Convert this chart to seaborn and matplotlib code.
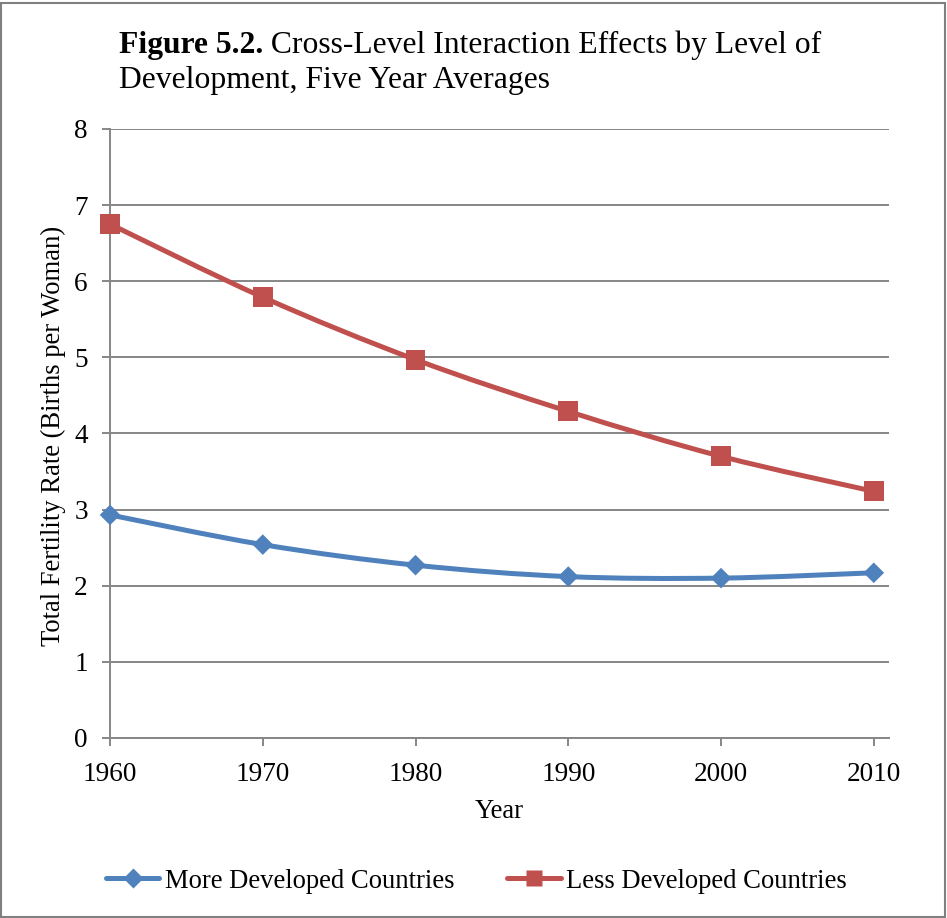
import numpy as np
import pandas as pd
import matplotlib
matplotlib.use("Agg")
import matplotlib.pyplot as plt
import seaborn as sns
from matplotlib.path import Path
from matplotlib.patches import PathPatch, Rectangle
from matplotlib.lines import Line2D

# ---- data -------------------------------------------------------------
years = [1960, 1970, 1980, 1990, 2000, 2010]
more_developed = [2.93, 2.54, 2.27, 2.12, 2.10, 2.17]
less_developed = [6.75, 5.79, 4.97, 4.29, 3.70, 3.24]
series_names = ["More Developed Countries", "Less Developed Countries"]
y_ticks = [0, 1, 2, 3, 4, 5, 6, 7, 8]
x_ticks = years

title_bold = "Figure 5.2."
title_rest = " Cross-Level Interaction Effects by Level of"
title_line2 = "Development, Five Year Averages"
x_label = "Year"
y_label = "Total Fertility Rate (Births per Woman)"

# ---- style ------------------------------------------------------------
sns.set_theme(style="white")
plt.rcParams["font.family"] = ["Liberation Serif", "DejaVu Serif"]
plt.rcParams["text.color"] = "black"

BLUE = "#4F81BD"
RED = "#C0504D"
GREY = "#868686"
FS_TICK = 19.6
FS_LABEL = 19.2
FS_TITLE = 22.8

df = pd.DataFrame({
    "Year": years * 2,
    "TFR": more_developed + less_developed,
    "Series": [series_names[0]] * len(years) + [series_names[1]] * len(years),
})

fig = plt.figure(figsize=(9.47, 9.18), dpi=100)
ax = fig.add_axes([0.1162, 0.1961, 0.8226, 0.6634])


def smooth_path(xs, ys):
    """Cubic Bezier path through the points (Catmull-Rom style tangents)."""
    pts = np.column_stack([xs, ys]).astype(float)
    n = len(pts)
    verts = [pts[0]]
    codes = [Path.MOVETO]
    for i in range(n - 1):
        p0 = pts[i - 1] if i > 0 else pts[i]
        p1, p2 = pts[i], pts[i + 1]
        p3 = pts[i + 2] if i + 2 < n else pts[i + 1]
        verts += [p1 + (p2 - p0) / 6.0, p2 - (p3 - p1) / 6.0, p2]
        codes += [Path.CURVE4] * 3
    return Path(verts, codes)


palette = {series_names[0]: BLUE, series_names[1]: RED}
for name in series_names:
    sub = df[df["Series"] == name]
    ax.add_patch(PathPatch(smooth_path(sub["Year"], sub["TFR"]),
                           facecolor="none", edgecolor=palette[name],
                           lw=3.6, capstyle="round", zorder=3,
                           clip_on=False))

sns.scatterplot(data=df, x="Year", y="TFR", hue="Series", style="Series",
                size="Series",
                palette=palette,
                markers={series_names[0]: "D", series_names[1]: "s"},
                sizes={series_names[0]: 110, series_names[1]: 205},
                edgecolor="none", legend=False, ax=ax, zorder=4)
for coll in ax.collections:
    coll.set_clip_on(False)

ax.set_xlim(1960, 2011)
ax.set_ylim(0, 8)
ax.set_xticks(x_ticks)
ax.set_yticks(y_ticks)
ax.set_xlabel("")
ax.set_ylabel("")

ax.yaxis.grid(True, color=GREY, lw=1.4)
ax.xaxis.grid(False)
for side in ("top", "right"):
    ax.spines[side].set_visible(False)
for side in ("left", "bottom"):
    ax.spines[side].set_color(GREY)
    ax.spines[side].set_linewidth(1.4)
    ax.spines[side].set_zorder(2)
ax.tick_params(axis="both", direction="out", length=5.5, width=1.4,
               color=GREY, labelsize=FS_TICK, labelcolor="black")
ax.tick_params(axis="y", pad=10.5)
ax.tick_params(axis="x", pad=11.5)
ax.tick_params(left=True, bottom=True)

# axis titles
fig.text(499.5 / 947, 1 - 818 / 918, x_label, ha="center", va="baseline",
         fontsize=FS_LABEL)
fig.text(53 / 947, 1 - 436 / 918, y_label, ha="center", va="center",
         rotation=90, fontsize=FS_LABEL)

# title: bold figure number followed by regular text
t1 = fig.text(119 / 947, 1 - 53 / 918, title_bold, ha="left", va="baseline",
              fontsize=FS_TITLE, fontweight="bold")
fig.canvas.draw()
bb = t1.get_window_extent(renderer=fig.canvas.get_renderer())
fig.text(bb.x1 / fig.bbox.width, 1 - 53 / 918, title_rest, ha="left",
         va="baseline", fontsize=FS_TITLE)
fig.text(119 / 947, 1 - 88 / 918, title_line2, ha="left", va="baseline",
         fontsize=FS_TITLE)

# legend along the bottom
handles = [
    Line2D([], [], color=BLUE, lw=3.6, marker="D", markersize=10,
           markeredgecolor="none"),
    Line2D([], [], color=RED, lw=3.6, marker="s", markersize=12,
           markeredgecolor="none"),
]
fig.legend(handles, series_names, loc="center",
           bbox_to_anchor=(0.503, 1 - 881 / 918), ncol=2, frameon=False,
           fontsize=FS_LABEL, handlelength=2.0, handletextpad=0.2,
           columnspacing=2.0)

# outer frame
fig.add_artist(Rectangle((0.0015, 0.0015), 0.996, 0.9955,
                         transform=fig.transFigure, fill=False,
                         edgecolor="#808080", lw=1.5))

fig.savefig("out.png", dpi=100)
